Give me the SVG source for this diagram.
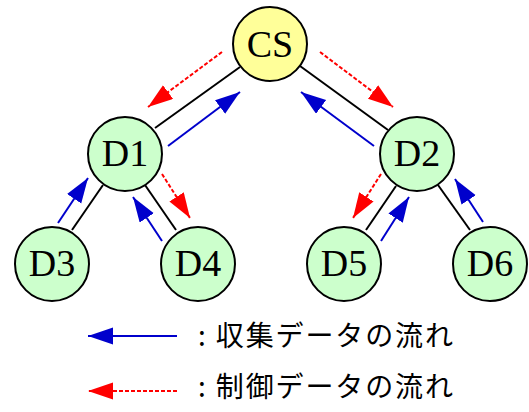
<svg xmlns="http://www.w3.org/2000/svg" width="529" height="412" viewBox="0 0 529 412">
  <style>
    .node { stroke: #000; stroke-width: 2; }
    .cs { fill: #ffff99; }
    .dn { fill: #ccffcc; }
    .lbl { font-family: "Liberation Serif", "Times New Roman", serif; font-size: 38px; fill: #000; text-anchor: middle; }
    .link { stroke: #000; stroke-width: 2; fill: none; }
    .collect { stroke: #0000cc; stroke-width: 2; fill: none; marker-end: url(#headBlue); }
    .control { stroke: #ff0000; stroke-width: 2; fill: none; stroke-dasharray: 4 2; marker-end: url(#headRed); }
    .legend { font-family: "Noto Sans CJK JP", "Noto Sans", sans-serif; font-size: 28px; fill: #000; }
  </style>
  <defs>
    <marker id="headBlue" markerUnits="userSpaceOnUse" markerWidth="26" markerHeight="18" refX="25" refY="8.5" orient="auto">
      <path d="M0,0 L25,8.5 L0,17 z" fill="#0000cc"/>
    </marker>
    <marker id="headRed" markerUnits="userSpaceOnUse" markerWidth="26" markerHeight="18" refX="25" refY="8.5" orient="auto">
      <path d="M0,0 L25,8.5 L0,17 z" fill="#ff0000"/>
    </marker>
  </defs>

  <!-- tree links and data-flow arrows -->
  <g id="connectors">
    <line class="link" x1="240" y1="67" x2="155" y2="128"/>
    <line class="link" x1="300" y1="66" x2="388" y2="130"/>
    <line class="link" x1="72" y1="230" x2="103" y2="185"/>
    <line class="link" x1="145" y1="185" x2="176" y2="230"/>
    <line class="link" x1="396" y1="186" x2="366" y2="230"/>
    <line class="link" x1="438" y1="185" x2="470" y2="230"/>

    <line class="control" x1="222" y1="52" x2="148" y2="107"/>
    <line class="collect" x1="168" y1="146" x2="240" y2="92"/>
    <line class="control" x1="320" y1="52" x2="393" y2="107"/>
    <line class="collect" x1="374" y1="146" x2="301" y2="92"/>
    <line class="collect" x1="58" y1="223" x2="88" y2="178"/>
    <line class="control" x1="162" y1="174" x2="190" y2="218"/>
    <line class="collect" x1="162" y1="241" x2="133" y2="197"/>
    <line class="control" x1="381" y1="174" x2="353" y2="218"/>
    <line class="collect" x1="381" y1="241" x2="409" y2="197"/>
    <line class="collect" x1="483" y1="222" x2="455" y2="179"/>
  </g>

  <g id="CS">
    <circle class="node cs" cx="270" cy="44" r="37"/>
    <text class="lbl" x="270" y="57">CS</text>
  </g>
  <g id="D1">
    <circle class="node dn" cx="125" cy="154" r="37"/>
    <text class="lbl" x="125" y="166">D1</text>
  </g>
  <g id="D2">
    <circle class="node dn" cx="417" cy="154" r="37"/>
    <text class="lbl" x="417" y="166">D2</text>
  </g>
  <g id="D3">
    <circle class="node dn" cx="52" cy="264" r="37"/>
    <text class="lbl" x="52" y="276">D3</text>
  </g>
  <g id="D4">
    <circle class="node dn" cx="198" cy="264" r="37"/>
    <text class="lbl" x="198" y="276">D4</text>
  </g>
  <g id="D5">
    <circle class="node dn" cx="344" cy="264" r="37"/>
    <text class="lbl" x="344" y="276">D5</text>
  </g>
  <g id="D6">
    <circle class="node dn" cx="490" cy="264" r="37"/>
    <text class="lbl" x="490" y="276">D6</text>
  </g>

  <!-- legend -->
  <g id="legend">
    <line class="collect" x1="177" y1="336" x2="88" y2="336"/>
    <text class="legend" x="198" y="346" textLength="255" lengthAdjust="spacing">: 収集データの流れ</text>
    <line class="control" x1="177" y1="391" x2="88" y2="391"/>
    <text class="legend" x="198" y="397" textLength="255" lengthAdjust="spacing">: 制御データの流れ</text>
  </g>
</svg>
